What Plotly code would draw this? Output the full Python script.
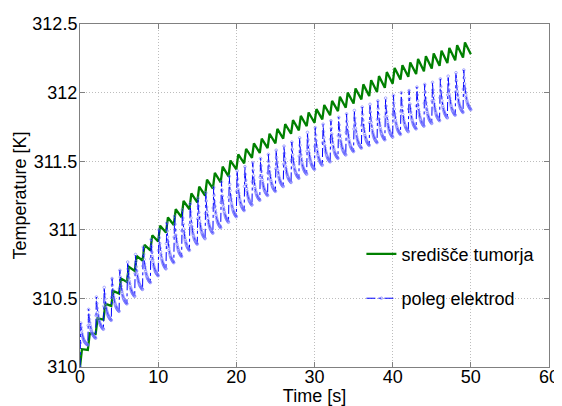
import plotly.graph_objects as go

# ---- data ----
pulse_times = list(range(50))          # one pulse per second, t = 0..49 s
T_start = 310.0

# green: centre of tumour, value at top of each tooth and just before next pulse
green_peak = [310.13, 310.245, 310.355, 310.46, 310.555, 310.645, 310.73, 310.81, 310.89, 310.96,
              311.03, 311.09, 311.15, 311.21, 311.265, 311.315, 311.365, 311.415, 311.46, 311.505,
              311.55, 311.59, 311.63, 311.665, 311.70, 311.735, 311.77, 311.80, 311.83, 311.855,
              311.88, 311.91, 311.94, 311.97, 312.00, 312.03, 312.06, 312.09, 312.12, 312.15,
              312.18, 312.20, 312.22, 312.245, 312.265, 312.285, 312.305, 312.325, 312.345, 312.365]
green_trough = [310.125, 310.24, 310.345, 310.445, 310.535, 310.62, 310.70, 310.775, 310.85, 310.915,
                310.98, 311.035, 311.09, 311.15, 311.20, 311.25, 311.30, 311.345, 311.39, 311.44,
                311.485, 311.525, 311.56, 311.595, 311.63, 311.665, 311.70, 311.725, 311.755, 311.78,
                311.805, 311.835, 311.865, 311.89, 311.92, 311.95, 311.975, 312.005, 312.035, 312.065,
                312.095, 312.115, 312.135, 312.155, 312.175, 312.195, 312.215, 312.235, 312.255, 312.28]
green_rise_time = 0.25

# blue: along the electrodes, spike top and value just before the next pulse
blue_peak = [310.32, 310.42, 310.51, 310.58, 310.645, 310.705, 310.765, 310.82, 310.875, 310.93,
             311.00, 311.05, 311.10, 311.145, 311.19, 311.23, 311.27, 311.31, 311.35, 311.39,
             311.43, 311.46, 311.49, 311.52, 311.55, 311.58, 311.61, 311.64, 311.67, 311.71,
             311.745, 311.77, 311.795, 311.82, 311.845, 311.87, 311.895, 311.915, 311.94, 311.96,
             311.98, 312.00, 312.015, 312.04, 312.06, 312.075, 312.10, 312.12, 312.145, 312.165]
blue_trough = [310.16, 310.21, 310.275, 310.34, 310.405, 310.46, 310.515, 310.565, 310.615, 310.665,
               310.715, 310.76, 310.805, 310.85, 310.895, 310.935, 310.975, 311.015, 311.055, 311.095,
               311.14, 311.18, 311.215, 311.25, 311.28, 311.315, 311.345, 311.375, 311.405, 311.44,
               311.47, 311.495, 311.52, 311.545, 311.57, 311.595, 311.615, 311.635, 311.655, 311.675,
               311.695, 311.715, 311.735, 311.755, 311.775, 311.795, 311.815, 311.835, 311.855, 311.875]
# shape of one blue spike within a period (fraction of time in period, relative height)
spike_tau = [0.05, 0.10, 0.15, 0.20, 0.25, 0.30, 0.35, 0.40, 0.45, 0.50, 0.55, 0.60, 0.65, 0.70,
             0.75, 0.80, 0.85, 0.90, 0.95, 1.00]
spike_rise_frac = 0.55          # height reached at tau=0.05 between previous trough and spike top
spike_decay = [None, 1.0, 0.80, 0.65, 0.53, 0.44, 0.37, 0.31, 0.26, 0.22, 0.18, 0.15, 0.12, 0.10,
               0.08, 0.06, 0.045, 0.03, 0.015, 0.0]

x_ticks = [0, 10, 20, 30, 40, 50, 60]
y_ticks = [310, 310.5, 311, 311.5, 312, 312.5]
y_tick_text = ["310", "310.5", "311", "311.5", "312", "312.5"]

# ---- build series ----
gx, gy = [0.0], [T_start]
for k, t0 in enumerate(pulse_times):
    gx += [t0 + green_rise_time, t0 + 1.0]
    gy += [green_peak[k], green_trough[k]]

bx, by = [0.0], [T_start]
prev = T_start
for k, t0 in enumerate(pulse_times):
    pk, tr = blue_peak[k], blue_trough[k]
    for tau, dec in zip(spike_tau, spike_decay):
        bx.append(t0 + tau)
        if dec is None:
            by.append(prev + spike_rise_frac * (pk - prev))
        else:
            by.append(tr + (pk - tr) * dec)
    prev = tr

FONT = "Liberation Sans, Arial, sans-serif"

fig = go.Figure()
fig.add_trace(go.Scatter(
    x=gx, y=gy, mode="lines", name="središče tumorja",
    line=dict(color="#008000", width=2.3), legendgroup="g"))
fig.add_trace(go.Scatter(
    x=bx, y=by, mode="lines+markers", name="poleg elektrod",
    line=dict(color="#0000ff", width=1, dash="dashdot"),
    marker=dict(symbol="circle-open", size=2.6, color="rgba(110,110,255,0.7)", line=dict(width=0.8)),
    legendgroup="b"))

axis_common = dict(
    showline=True, linecolor="#808080", linewidth=1, mirror="ticks",
    ticks="inside", ticklen=5, tickcolor="#808080",
    showgrid=True, gridcolor="#bdbdbd", griddash="1px,2px", gridwidth=1,
    zeroline=False, tickfont=dict(family=FONT, size=18, color="black"),
    automargin=False,
)

# the page body adds an 8px offset, so the figure is sized 8px smaller
fig.update_layout(
    width=554, height=398,
    margin=dict(l=72, r=13, t=16, b=39),
    paper_bgcolor="white", plot_bgcolor="white",
    font=dict(family=FONT, size=18, color="black"),
    xaxis=dict(range=[0, 60], tickvals=x_ticks, ticklabelstandoff=-7,
               title=dict(text="Time [s]", standoff=0, font=dict(family=FONT, size=18)),
               **axis_common),
    yaxis=dict(range=[310, 312.5], tickvals=y_ticks, ticktext=y_tick_text, ticklabelstandoff=-2,
               title=dict(text="Temperature [K]", standoff=1, font=dict(family=FONT, size=18)),
               **axis_common),
    legend=dict(x=0.6, y=0.383, xanchor="left", yanchor="top",
                bgcolor="rgba(0,0,0,0)", borderwidth=0,
                font=dict(family=FONT, size=18), tracegroupgap=18,
                traceorder="grouped"),
    showlegend=True,
)

fig.write_html("out.html")
